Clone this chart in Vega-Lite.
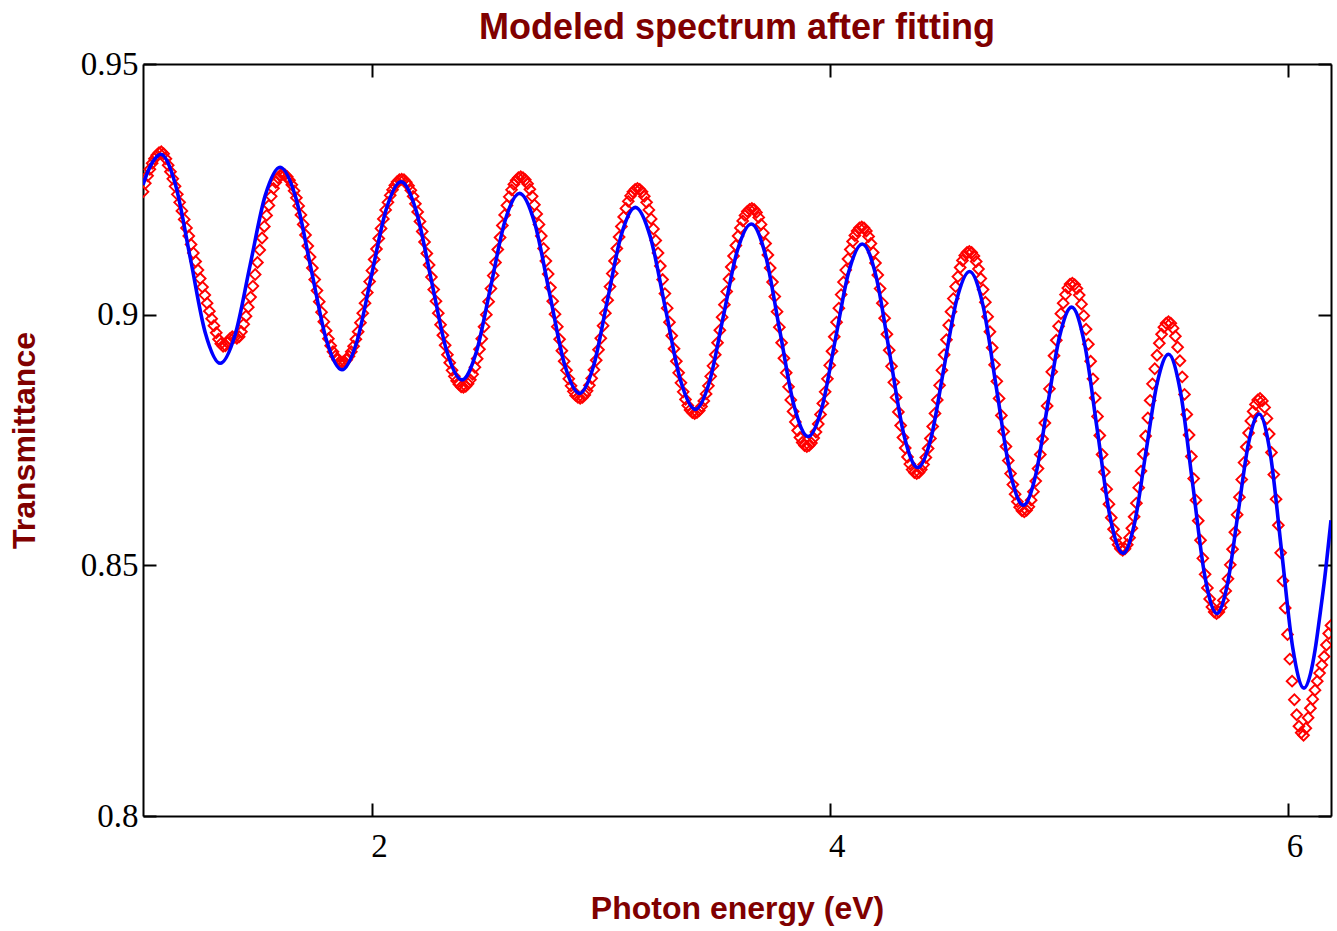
{
"$schema": "https://vega.github.io/schema/vega-lite/v6.json",
"width": 1188, "height": 752,
"autosize": {"type": "none"},
"padding": {"left": 143, "top": 64, "right": 6, "bottom": 115},
"background": "white",
"title": {"text": "Modeled spectrum after fitting", "font": "Liberation Sans", "fontSize": 36, "fontWeight": "bold", "color": "#800000", "offset": 1, "anchor": "middle"},
"config": {"view": {"stroke": null}, "axis": {"domainColor": "black", "domainWidth": 2, "tickColor": "black", "tickWidth": 2, "grid": false, "labelFont": "Liberation Serif", "labelFontSize": 33, "labelColor": "black", "titleFont": "Liberation Sans", "titleFontSize": 32, "titleFontWeight": "bold", "titleColor": "#800000"}},
"datasets": {
"measured": [
{"e":1.00,"t":0.9245},{"e":1.01,"t":0.9262},{"e":1.02,"t":0.9277},{"e":1.03,"t":0.9290},{"e":1.04,"t":0.9302},{"e":1.05,"t":0.9311},{"e":1.06,"t":0.9318},{"e":1.07,"t":0.9323},{"e":1.08,"t":0.9325},{"e":1.09,"t":0.9321},
{"e":1.10,"t":0.9311},{"e":1.11,"t":0.9298},{"e":1.12,"t":0.9285},{"e":1.13,"t":0.9271},{"e":1.14,"t":0.9256},{"e":1.15,"t":0.9240},{"e":1.16,"t":0.9224},{"e":1.17,"t":0.9207},{"e":1.18,"t":0.9190},{"e":1.19,"t":0.9173},
{"e":1.20,"t":0.9157},{"e":1.21,"t":0.9140},{"e":1.22,"t":0.9123},{"e":1.23,"t":0.9106},{"e":1.24,"t":0.9089},{"e":1.25,"t":0.9072},{"e":1.26,"t":0.9055},{"e":1.27,"t":0.9039},{"e":1.28,"t":0.9023},{"e":1.29,"t":0.9007},
{"e":1.30,"t":0.8992},{"e":1.31,"t":0.8978},{"e":1.32,"t":0.8964},{"e":1.33,"t":0.8951},{"e":1.34,"t":0.8942},{"e":1.35,"t":0.8937},{"e":1.36,"t":0.8938},{"e":1.37,"t":0.8944},{"e":1.38,"t":0.8952},{"e":1.39,"t":0.8956},
{"e":1.40,"t":0.8955},{"e":1.41,"t":0.8953},{"e":1.42,"t":0.8956},{"e":1.43,"t":0.8966},{"e":1.44,"t":0.8981},{"e":1.45,"t":0.8997},{"e":1.46,"t":0.9015},{"e":1.47,"t":0.9035},{"e":1.48,"t":0.9057},{"e":1.49,"t":0.9080},
{"e":1.50,"t":0.9104},{"e":1.51,"t":0.9129},{"e":1.52,"t":0.9153},{"e":1.53,"t":0.9176},{"e":1.54,"t":0.9198},{"e":1.55,"t":0.9218},{"e":1.56,"t":0.9236},{"e":1.57,"t":0.9252},{"e":1.58,"t":0.9264},{"e":1.59,"t":0.9273},
{"e":1.60,"t":0.9278},{"e":1.61,"t":0.9280},{"e":1.62,"t":0.9279},{"e":1.63,"t":0.9275},{"e":1.64,"t":0.9268},{"e":1.65,"t":0.9259},{"e":1.66,"t":0.9247},{"e":1.67,"t":0.9233},{"e":1.68,"t":0.9217},{"e":1.69,"t":0.9199},
{"e":1.70,"t":0.9180},{"e":1.71,"t":0.9159},{"e":1.72,"t":0.9137},{"e":1.73,"t":0.9115},{"e":1.74,"t":0.9093},{"e":1.75,"t":0.9070},{"e":1.76,"t":0.9048},{"e":1.77,"t":0.9026},{"e":1.78,"t":0.9005},{"e":1.79,"t":0.8986},
{"e":1.80,"t":0.8968},{"e":1.81,"t":0.8952},{"e":1.82,"t":0.8938},{"e":1.83,"t":0.8926},{"e":1.84,"t":0.8917},{"e":1.85,"t":0.8910},{"e":1.86,"t":0.8906},{"e":1.87,"t":0.8905},{"e":1.88,"t":0.8906},{"e":1.89,"t":0.8910},
{"e":1.90,"t":0.8917},{"e":1.91,"t":0.8926},{"e":1.92,"t":0.8937},{"e":1.93,"t":0.8951},{"e":1.94,"t":0.8966},{"e":1.95,"t":0.8984},{"e":1.96,"t":0.9003},{"e":1.97,"t":0.9023},{"e":1.98,"t":0.9044},{"e":1.99,"t":0.9066},
{"e":2.00,"t":0.9088},{"e":2.01,"t":0.9110},{"e":2.02,"t":0.9131},{"e":2.03,"t":0.9152},{"e":2.04,"t":0.9172},{"e":2.05,"t":0.9191},{"e":2.06,"t":0.9209},{"e":2.07,"t":0.9224},{"e":2.08,"t":0.9238},{"e":2.09,"t":0.9249},
{"e":2.10,"t":0.9258},{"e":2.11,"t":0.9265},{"e":2.12,"t":0.9269},{"e":2.13,"t":0.9270},{"e":2.14,"t":0.9269},{"e":2.15,"t":0.9264},{"e":2.16,"t":0.9257},{"e":2.17,"t":0.9248},{"e":2.18,"t":0.9236},{"e":2.19,"t":0.9221},
{"e":2.20,"t":0.9205},{"e":2.21,"t":0.9186},{"e":2.22,"t":0.9166},{"e":2.23,"t":0.9145},{"e":2.24,"t":0.9122},{"e":2.25,"t":0.9099},{"e":2.26,"t":0.9075},{"e":2.27,"t":0.9050},{"e":2.28,"t":0.9027},{"e":2.29,"t":0.9003},
{"e":2.30,"t":0.8980},{"e":2.31,"t":0.8959},{"e":2.32,"t":0.8939},{"e":2.33,"t":0.8920},{"e":2.34,"t":0.8904},{"e":2.35,"t":0.8889},{"e":2.36,"t":0.8877},{"e":2.37,"t":0.8868},{"e":2.38,"t":0.8861},{"e":2.39,"t":0.8856},
{"e":2.40,"t":0.8855},{"e":2.41,"t":0.8857},{"e":2.42,"t":0.8862},{"e":2.43,"t":0.8870},{"e":2.44,"t":0.8881},{"e":2.45,"t":0.8895},{"e":2.46,"t":0.8912},{"e":2.47,"t":0.8931},{"e":2.48,"t":0.8952},{"e":2.49,"t":0.8976},
{"e":2.50,"t":0.9000},{"e":2.51,"t":0.9026},{"e":2.52,"t":0.9052},{"e":2.53,"t":0.9078},{"e":2.54,"t":0.9104},{"e":2.55,"t":0.9130},{"e":2.56,"t":0.9154},{"e":2.57,"t":0.9178},{"e":2.58,"t":0.9199},{"e":2.59,"t":0.9218},
{"e":2.60,"t":0.9235},{"e":2.61,"t":0.9249},{"e":2.62,"t":0.9260},{"e":2.63,"t":0.9268},{"e":2.64,"t":0.9273},{"e":2.65,"t":0.9275},{"e":2.66,"t":0.9273},{"e":2.67,"t":0.9269},{"e":2.68,"t":0.9261},{"e":2.69,"t":0.9250},
{"e":2.70,"t":0.9236},{"e":2.71,"t":0.9219},{"e":2.72,"t":0.9201},{"e":2.73,"t":0.9180},{"e":2.74,"t":0.9157},{"e":2.75,"t":0.9132},{"e":2.76,"t":0.9107},{"e":2.77,"t":0.9081},{"e":2.78,"t":0.9054},{"e":2.79,"t":0.9027},
{"e":2.80,"t":0.9001},{"e":2.81,"t":0.8976},{"e":2.82,"t":0.8951},{"e":2.83,"t":0.8928},{"e":2.84,"t":0.8907},{"e":2.85,"t":0.8889},{"e":2.86,"t":0.8872},{"e":2.87,"t":0.8858},{"e":2.88,"t":0.8847},{"e":2.89,"t":0.8839},
{"e":2.90,"t":0.8835},{"e":2.91,"t":0.8833},{"e":2.92,"t":0.8835},{"e":2.93,"t":0.8840},{"e":2.94,"t":0.8848},{"e":2.95,"t":0.8859},{"e":2.96,"t":0.8873},{"e":2.97,"t":0.8890},{"e":2.98,"t":0.8909},{"e":2.99,"t":0.8930},
{"e":3.00,"t":0.8953},{"e":3.01,"t":0.8978},{"e":3.02,"t":0.9003},{"e":3.03,"t":0.9029},{"e":3.04,"t":0.9056},{"e":3.05,"t":0.9082},{"e":3.06,"t":0.9107},{"e":3.07,"t":0.9132},{"e":3.08,"t":0.9155},{"e":3.09,"t":0.9176},
{"e":3.10,"t":0.9195},{"e":3.11,"t":0.9212},{"e":3.12,"t":0.9226},{"e":3.13,"t":0.9237},{"e":3.14,"t":0.9245},{"e":3.15,"t":0.9250},{"e":3.16,"t":0.9252},{"e":3.17,"t":0.9250},{"e":3.18,"t":0.9245},{"e":3.19,"t":0.9236},
{"e":3.20,"t":0.9224},{"e":3.21,"t":0.9209},{"e":3.22,"t":0.9191},{"e":3.23,"t":0.9171},{"e":3.24,"t":0.9148},{"e":3.25,"t":0.9123},{"e":3.26,"t":0.9097},{"e":3.27,"t":0.9070},{"e":3.28,"t":0.9042},{"e":3.29,"t":0.9013},
{"e":3.30,"t":0.8985},{"e":3.31,"t":0.8958},{"e":3.32,"t":0.8932},{"e":3.33,"t":0.8907},{"e":3.34,"t":0.8884},{"e":3.35,"t":0.8864},{"e":3.36,"t":0.8846},{"e":3.37,"t":0.8831},{"e":3.38,"t":0.8819},{"e":3.39,"t":0.8810},
{"e":3.40,"t":0.8805},{"e":3.41,"t":0.8803},{"e":3.42,"t":0.8805},{"e":3.43,"t":0.8809},{"e":3.44,"t":0.8817},{"e":3.45,"t":0.8828},{"e":3.46,"t":0.8842},{"e":3.47,"t":0.8858},{"e":3.48,"t":0.8877},{"e":3.49,"t":0.8898},
{"e":3.50,"t":0.8920},{"e":3.51,"t":0.8944},{"e":3.52,"t":0.8969},{"e":3.53,"t":0.8995},{"e":3.54,"t":0.9020},{"e":3.55,"t":0.9046},{"e":3.56,"t":0.9071},{"e":3.57,"t":0.9095},{"e":3.58,"t":0.9117},{"e":3.59,"t":0.9138},
{"e":3.60,"t":0.9157},{"e":3.61,"t":0.9173},{"e":3.62,"t":0.9187},{"e":3.63,"t":0.9198},{"e":3.64,"t":0.9206},{"e":3.65,"t":0.9210},{"e":3.66,"t":0.9212},{"e":3.67,"t":0.9210},{"e":3.68,"t":0.9204},{"e":3.69,"t":0.9194},
{"e":3.70,"t":0.9180},{"e":3.71,"t":0.9163},{"e":3.72,"t":0.9142},{"e":3.73,"t":0.9119},{"e":3.74,"t":0.9093},{"e":3.75,"t":0.9065},{"e":3.76,"t":0.9036},{"e":3.77,"t":0.9006},{"e":3.78,"t":0.8975},{"e":3.79,"t":0.8944},
{"e":3.80,"t":0.8913},{"e":3.81,"t":0.8884},{"e":3.82,"t":0.8856},{"e":3.83,"t":0.8830},{"e":3.84,"t":0.8807},{"e":3.85,"t":0.8786},{"e":3.86,"t":0.8769},{"e":3.87,"t":0.8755},{"e":3.88,"t":0.8745},{"e":3.89,"t":0.8739},
{"e":3.90,"t":0.8737},{"e":3.91,"t":0.8739},{"e":3.92,"t":0.8744},{"e":3.93,"t":0.8754},{"e":3.94,"t":0.8766},{"e":3.95,"t":0.8782},{"e":3.96,"t":0.8801},{"e":3.97,"t":0.8823},{"e":3.98,"t":0.8846},{"e":3.99,"t":0.8872},
{"e":4.00,"t":0.8899},{"e":4.01,"t":0.8927},{"e":4.02,"t":0.8956},{"e":4.03,"t":0.8985},{"e":4.04,"t":0.9013},{"e":4.05,"t":0.9040},{"e":4.06,"t":0.9065},{"e":4.07,"t":0.9089},{"e":4.08,"t":0.9111},{"e":4.09,"t":0.9130},
{"e":4.10,"t":0.9146},{"e":4.11,"t":0.9158},{"e":4.12,"t":0.9167},{"e":4.13,"t":0.9173},{"e":4.14,"t":0.9175},{"e":4.15,"t":0.9173},{"e":4.16,"t":0.9167},{"e":4.17,"t":0.9156},{"e":4.18,"t":0.9142},{"e":4.19,"t":0.9124},
{"e":4.20,"t":0.9103},{"e":4.21,"t":0.9079},{"e":4.22,"t":0.9052},{"e":4.23,"t":0.9023},{"e":4.24,"t":0.8993},{"e":4.25,"t":0.8961},{"e":4.26,"t":0.8929},{"e":4.27,"t":0.8897},{"e":4.28,"t":0.8865},{"e":4.29,"t":0.8835},
{"e":4.30,"t":0.8806},{"e":4.31,"t":0.8779},{"e":4.32,"t":0.8755},{"e":4.33,"t":0.8734},{"e":4.34,"t":0.8716},{"e":4.35,"t":0.8702},{"e":4.36,"t":0.8691},{"e":4.37,"t":0.8685},{"e":4.38,"t":0.8683},{"e":4.39,"t":0.8685},
{"e":4.40,"t":0.8691},{"e":4.41,"t":0.8701},{"e":4.42,"t":0.8715},{"e":4.43,"t":0.8733},{"e":4.44,"t":0.8753},{"e":4.45,"t":0.8777},{"e":4.46,"t":0.8803},{"e":4.47,"t":0.8830},{"e":4.48,"t":0.8859},{"e":4.49,"t":0.8889},
{"e":4.50,"t":0.8920},{"e":4.51,"t":0.8950},{"e":4.52,"t":0.8979},{"e":4.53,"t":0.9006},{"e":4.54,"t":0.9032},{"e":4.55,"t":0.9056},{"e":4.56,"t":0.9076},{"e":4.57,"t":0.9094},{"e":4.58,"t":0.9108},{"e":4.59,"t":0.9118},
{"e":4.60,"t":0.9124},{"e":4.61,"t":0.9126},{"e":4.62,"t":0.9124},{"e":4.63,"t":0.9117},{"e":4.64,"t":0.9106},{"e":4.65,"t":0.9091},{"e":4.66,"t":0.9072},{"e":4.67,"t":0.9050},{"e":4.68,"t":0.9025},{"e":4.69,"t":0.8996},
{"e":4.70,"t":0.8966},{"e":4.71,"t":0.8934},{"e":4.72,"t":0.8900},{"e":4.73,"t":0.8867},{"e":4.74,"t":0.8833},{"e":4.75,"t":0.8799},{"e":4.76,"t":0.8767},{"e":4.77,"t":0.8737},{"e":4.78,"t":0.8709},{"e":4.79,"t":0.8683},
{"e":4.80,"t":0.8661},{"e":4.81,"t":0.8642},{"e":4.82,"t":0.8627},{"e":4.83,"t":0.8616},{"e":4.84,"t":0.8609},{"e":4.85,"t":0.8607},{"e":4.86,"t":0.8610},{"e":4.87,"t":0.8617},{"e":4.88,"t":0.8630},{"e":4.89,"t":0.8647},
{"e":4.90,"t":0.8668},{"e":4.91,"t":0.8693},{"e":4.92,"t":0.8721},{"e":4.93,"t":0.8752},{"e":4.94,"t":0.8784},{"e":4.95,"t":0.8818},{"e":4.96,"t":0.8852},{"e":4.97,"t":0.8886},{"e":4.98,"t":0.8918},{"e":4.99,"t":0.8949},
{"e":5.00,"t":0.8977},{"e":5.01,"t":0.9002},{"e":5.02,"t":0.9023},{"e":5.03,"t":0.9040},{"e":5.04,"t":0.9053},{"e":5.05,"t":0.9061},{"e":5.06,"t":0.9063},{"e":5.07,"t":0.9060},{"e":5.08,"t":0.9052},{"e":5.09,"t":0.9039},
{"e":5.10,"t":0.9021},{"e":5.11,"t":0.8998},{"e":5.12,"t":0.8971},{"e":5.13,"t":0.8941},{"e":5.14,"t":0.8907},{"e":5.15,"t":0.8872},{"e":5.16,"t":0.8834},{"e":5.17,"t":0.8797},{"e":5.18,"t":0.8759},{"e":5.19,"t":0.8721},
{"e":5.20,"t":0.8686},{"e":5.21,"t":0.8652},{"e":5.22,"t":0.8622},{"e":5.23,"t":0.8595},{"e":5.24,"t":0.8572},{"e":5.25,"t":0.8554},{"e":5.26,"t":0.8541},{"e":5.27,"t":0.8533},{"e":5.28,"t":0.8530},{"e":5.29,"t":0.8533},
{"e":5.30,"t":0.8541},{"e":5.31,"t":0.8555},{"e":5.32,"t":0.8574},{"e":5.33,"t":0.8597},{"e":5.34,"t":0.8624},{"e":5.35,"t":0.8655},{"e":5.36,"t":0.8688},{"e":5.37,"t":0.8722},{"e":5.38,"t":0.8758},{"e":5.39,"t":0.8794},
{"e":5.40,"t":0.8829},{"e":5.41,"t":0.8862},{"e":5.42,"t":0.8892},{"e":5.43,"t":0.8919},{"e":5.44,"t":0.8943},{"e":5.45,"t":0.8961},{"e":5.46,"t":0.8975},{"e":5.47,"t":0.8983},{"e":5.48,"t":0.8986},{"e":5.49,"t":0.8983},
{"e":5.50,"t":0.8973},{"e":5.51,"t":0.8957},{"e":5.52,"t":0.8935},{"e":5.53,"t":0.8908},{"e":5.54,"t":0.8876},{"e":5.55,"t":0.8841},{"e":5.56,"t":0.8801},{"e":5.57,"t":0.8760},{"e":5.58,"t":0.8717},{"e":5.59,"t":0.8673},
{"e":5.60,"t":0.8630},{"e":5.61,"t":0.8589},{"e":5.62,"t":0.8550},{"e":5.63,"t":0.8514},{"e":5.64,"t":0.8482},{"e":5.65,"t":0.8455},{"e":5.66,"t":0.8433},{"e":5.67,"t":0.8417},{"e":5.68,"t":0.8407},{"e":5.69,"t":0.8404},
{"e":5.70,"t":0.8407},{"e":5.71,"t":0.8416},{"e":5.72,"t":0.8430},{"e":5.73,"t":0.8449},{"e":5.74,"t":0.8473},{"e":5.75,"t":0.8501},{"e":5.76,"t":0.8532},{"e":5.77,"t":0.8566},{"e":5.78,"t":0.8601},{"e":5.79,"t":0.8636},
{"e":5.80,"t":0.8671},{"e":5.81,"t":0.8705},{"e":5.82,"t":0.8736},{"e":5.83,"t":0.8764},{"e":5.84,"t":0.8788},{"e":5.85,"t":0.8807},{"e":5.86,"t":0.8821},{"e":5.87,"t":0.8830},{"e":5.88,"t":0.8833},{"e":5.89,"t":0.8828},
{"e":5.90,"t":0.8815},{"e":5.91,"t":0.8793},{"e":5.92,"t":0.8762},{"e":5.93,"t":0.8725},{"e":5.94,"t":0.8681},{"e":5.95,"t":0.8632},{"e":5.96,"t":0.8580},{"e":5.97,"t":0.8525},{"e":5.98,"t":0.8469},{"e":5.99,"t":0.8415},
{"e":6.00,"t":0.8362},{"e":6.01,"t":0.8313},{"e":6.02,"t":0.8269},{"e":6.03,"t":0.8232},{"e":6.04,"t":0.8202},{"e":6.05,"t":0.8179},{"e":6.06,"t":0.8166},{"e":6.07,"t":0.8161},{"e":6.08,"t":0.8175},{"e":6.09,"t":0.8196},
{"e":6.10,"t":0.8215},{"e":6.11,"t":0.8233},{"e":6.12,"t":0.8251},{"e":6.13,"t":0.8269},{"e":6.14,"t":0.8285},{"e":6.15,"t":0.8301},{"e":6.16,"t":0.8318},{"e":6.17,"t":0.8341},{"e":6.18,"t":0.8364},{"e":6.19,"t":0.8380}
],
"model": [
{"e":1.00,"t":0.9259},{"e":1.02,"t":0.9284},{"e":1.04,"t":0.9303},{"e":1.06,"t":0.9315},{"e":1.077,"t":0.9320},
{"e":1.142,"t":0.9259},{"e":1.207,"t":0.9112},{"e":1.272,"t":0.8964},{"e":1.337,"t":0.8903},
{"e":1.4025,"t":0.8960},{"e":1.468,"t":0.9099},{"e":1.5335,"t":0.9237},{"e":1.599,"t":0.9294},
{"e":1.6665,"t":0.9235},{"e":1.734,"t":0.9092},{"e":1.8015,"t":0.8949},{"e":1.869,"t":0.8890},
{"e":1.9335,"t":0.8945},{"e":1.998,"t":0.9078},{"e":2.0625,"t":0.9210},{"e":2.127,"t":0.9265},
{"e":2.1935,"t":0.9207},{"e":2.26,"t":0.9068},{"e":2.3265,"t":0.8928},{"e":2.393,"t":0.8870},
{"e":2.456,"t":0.8925},{"e":2.519,"t":0.9056},{"e":2.582,"t":0.9188},{"e":2.645,"t":0.9242},
{"e":2.7105,"t":0.9184},{"e":2.776,"t":0.9043},{"e":2.8415,"t":0.8901},{"e":2.907,"t":0.8843},
{"e":2.968,"t":0.8897},{"e":3.029,"t":0.9029},{"e":3.09,"t":0.9160},{"e":3.151,"t":0.9214},
{"e":3.2165,"t":0.9155},{"e":3.282,"t":0.9013},{"e":3.3475,"t":0.8870},{"e":3.413,"t":0.8811},
{"e":3.474,"t":0.8865},{"e":3.535,"t":0.8996},{"e":3.596,"t":0.9127},{"e":3.657,"t":0.9181},
{"e":3.7193,"t":0.9119},{"e":3.7815,"t":0.8969},{"e":3.8438,"t":0.8819},{"e":3.906,"t":0.8757},
{"e":3.965,"t":0.8813},{"e":4.024,"t":0.8949},{"e":4.083,"t":0.9085},{"e":4.142,"t":0.9141},
{"e":4.2028,"t":0.9076},{"e":4.2635,"t":0.8918},{"e":4.3243,"t":0.8760},{"e":4.385,"t":0.8695},
{"e":4.4415,"t":0.8752},{"e":4.498,"t":0.8891},{"e":4.5545,"t":0.9029},{"e":4.611,"t":0.9086},
{"e":4.6698,"t":0.9018},{"e":4.7285,"t":0.8853},{"e":4.7873,"t":0.8688},{"e":4.846,"t":0.8620},
{"e":4.8988,"t":0.8678},{"e":4.9515,"t":0.8818},{"e":5.0043,"t":0.8957},{"e":5.057,"t":0.9015},
{"e":5.113,"t":0.8943},{"e":5.169,"t":0.8770},{"e":5.225,"t":0.8596},{"e":5.281,"t":0.8524},
{"e":5.3308,"t":0.8582},{"e":5.3805,"t":0.8723},{"e":5.4303,"t":0.8863},{"e":5.48,"t":0.8921},
{"e":5.5328,"t":0.8845},{"e":5.5855,"t":0.8663},{"e":5.6383,"t":0.8480},{"e":5.691,"t":0.8404},
{"e":5.7373,"t":0.8462},{"e":5.7835,"t":0.8603},{"e":5.8298,"t":0.8744},{"e":5.876,"t":0.8802},
{"e":5.925,"t":0.8722},{"e":5.974,"t":0.8529},{"e":6.023,"t":0.8335},{"e":6.072,"t":0.8255},
{"e":6.10,"t":0.8283},{"e":6.12,"t":0.8330},{"e":6.14,"t":0.8395},{"e":6.16,"t":0.8465},{"e":6.19,"t":0.8590}
]
},
"layer": [
{"data": {"name": "measured"},
 "mark": {"type": "point", "shape": "diamond", "filled": false, "color": "#ff0000", "size": 115, "strokeWidth": 1.9, "opacity": 1, "clip": true},
 "encoding": {
  "x": {"field": "e", "type": "quantitative", "scale": {"domain": [1, 6.19], "nice": false, "zero": false},
        "axis": {"orient": "bottom", "values": [2, 4, 6], "title": "Photon energy (eV)", "tickSize": -13, "labelPadding": 27, "labelOffset": 7, "titlePadding": 30, "format": "~g"}},
  "y": {"field": "t", "type": "quantitative", "scale": {"domain": [0.8, 0.95], "nice": false, "zero": false},
        "axis": {"orient": "left", "values": [0.8, 0.85, 0.9, 0.95], "title": "Transmittance", "tickSize": -13, "labelPadding": 18, "titlePadding": 39, "format": "~g"}}
 }},
{"data": {"name": "model"},
 "mark": {"type": "line", "color": "#0000ff", "strokeWidth": 3.6, "interpolate": "monotone", "clip": true},
 "encoding": {
  "x": {"field": "e", "type": "quantitative", "scale": {"domain": [1, 6.19], "nice": false, "zero": false},
        "axis": {"orient": "top", "values": [2, 4, 6], "labels": false, "title": null, "tickSize": -13}},
  "y": {"field": "t", "type": "quantitative", "scale": {"domain": [0.8, 0.95], "nice": false, "zero": false},
        "axis": {"orient": "right", "values": [0.8, 0.85, 0.9, 0.95], "labels": false, "title": null, "tickSize": -13}}
 }}
],
"resolve": {"axis": {"x": "independent", "y": "independent"}}
}
